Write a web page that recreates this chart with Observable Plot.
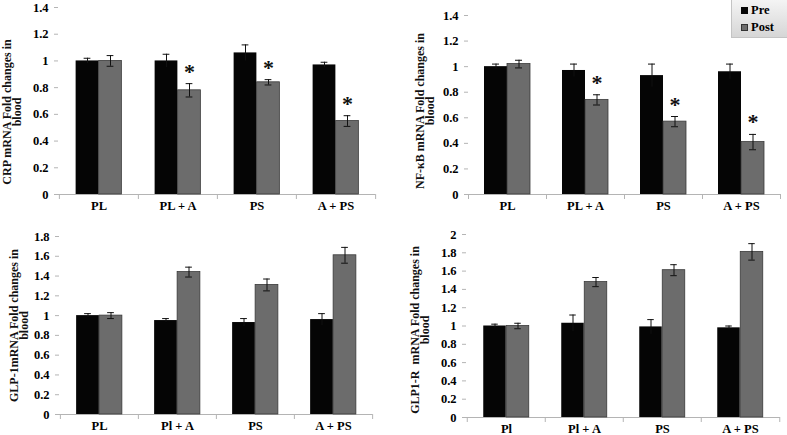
<!DOCTYPE html>
<html><head><meta charset="utf-8">
<script src="https://cdn.jsdelivr.net/npm/d3@7"></script>
<script src="https://cdn.jsdelivr.net/npm/@observablehq/plot@0.6"></script>
<style>
body{margin:0;background:#fff}
#wrap{position:relative;width:787px;height:435px;overflow:hidden;font-family:"Liberation Serif",serif}
.panel{position:absolute}
#legend{position:absolute;left:731px;top:0px;width:56px;height:38px;box-sizing:border-box;border:1px solid #c4c4c4;border-top:none;border-right:none;background:linear-gradient(#f4f4f4,#d6d6d6);font-weight:bold;font-size:12.5px;color:#000}
#legend .row{position:absolute;left:9px;display:flex;align-items:center;gap:3px}
#legend .sw{width:7px;height:7px;box-sizing:border-box}
</style></head><body>
<div id="wrap"></div>
<script>
// ---- data ----
const catsCRP = ["PL", "PL + A", "PS", "A + PS"];
const catsNFkB = ["PL", "PL + A", "PS", "A + PS"];
const catsGLP1 = ["PL", "Pl + A", "PS", "A + PS"];
const catsGLP1R = ["Pl", "Pl + A", "PS", "A + PS"];
const seriesNames = ["Pre", "Post"];

const crpPre = [1.00, 1.00, 1.06, 0.97];
const crpPreErr = [0.02, 0.05, 0.06, 0.02];
const crpPost = [1.00, 0.78, 0.84, 0.55];
const crpPostErr = [0.04, 0.05, 0.02, 0.04];
const crpStars = [false, true, true, true];

const nfkbPre = [1.00, 0.97, 0.93, 0.96];
const nfkbPreErr = [0.02, 0.05, 0.09, 0.06];
const nfkbPost = [1.02, 0.74, 0.57, 0.41];
const nfkbPostErr = [0.03, 0.04, 0.04, 0.06];
const nfkbStars = [false, true, true, true];

const glp1Pre = [1.00, 0.95, 0.93, 0.96];
const glp1PreErr = [0.02, 0.02, 0.04, 0.06];
const glp1Post = [1.00, 1.44, 1.31, 1.61];
const glp1PostErr = [0.03, 0.05, 0.06, 0.08];
const glp1Stars = [false, false, false, false];

const glp1rPre = [1.00, 1.03, 0.99, 0.98];
const glp1rPreErr = [0.02, 0.09, 0.08, 0.02];
const glp1rPost = [1.00, 1.48, 1.61, 1.81];
const glp1rPostErr = [0.03, 0.05, 0.06, 0.09];
const glp1rStars = [false, false, false, false];

const yTicksCRP = [0, 0.2, 0.4, 0.6, 0.8, 1, 1.2, 1.4];
const yTicksNFkB = [0, 0.2, 0.4, 0.6, 0.8, 1, 1.2, 1.4];
const yTicksGLP1 = [0, 0.2, 0.4, 0.6, 0.8, 1, 1.2, 1.4, 1.6, 1.8];
const yTicksGLP1R = [0, 0.2, 0.4, 0.6, 0.8, 1, 1.2, 1.4, 1.6, 1.8, 2];

const labelCRP = "CRP mRNA Fold changes in\nblood";
const labelNFkB = "NF-\u03baB mRNA Fold changes in\nblood";
const labelGLP1 = "GLP-1mRNA Fold changes in\nblood";
const labelGLP1R = "GLP1-R  mRNA Fold changes in\nblood";

const preColor = "#050505";
const postColor = "#6c6c6c";
const axisColor = "#b4b4b4";

function panel(p) {
  const rows = p.cats.map((c, i) => ({
    cat: c, pre: p.pre[i], preErr: p.preErr[i], post: p.post[i], postErr: p.postErr[i], star: p.stars[i]
  }));
  const band = (p.width - p.ml - p.mr) / p.cats.length;
  const frameH = p.height - p.mt - p.mb;
  const bw = 23, cap = 3.5;
  const half = band / 2;
  const fmt = d => String(+d.toFixed(1));
  const chart = Plot.plot({
    width: p.width, height: p.height,
    marginLeft: p.ml, marginRight: p.mr, marginTop: p.mt, marginBottom: p.mb,
    style: {fontFamily: "'Liberation Serif', serif", background: "transparent", overflow: "visible"},
    x: {domain: p.cats, padding: 0},
    y: {domain: [0, p.ticks[p.ticks.length - 1]]},
    marks: [
      Plot.axisY({ticks: p.ticks, tickFormat: fmt, tickSize: 4, tickPadding: 6, stroke: axisColor, fill: "black",
                  fontSize: 12.5, fontWeight: "bold", label: null, line: true}),
      Plot.axisX({tickSize: 0, tickPadding: 7, fill: "black", fontSize: 12.5, fontWeight: "bold", label: null}),
      Plot.ruleY([0], {stroke: axisColor}),
      Plot.ruleX(p.cats, {x: d => d, dx: -half, insetTop: frameH, insetBottom: -5, stroke: axisColor}),
      Plot.ruleX(p.cats.slice(-1), {x: d => d, dx: half, insetTop: frameH, insetBottom: -5, stroke: axisColor}),
      Plot.barY(rows, {x: "cat", y: "pre", fill: preColor, insetLeft: half - bw, insetRight: half}),
      Plot.barY(rows, {x: "cat", y: "post", fill: postColor, stroke: "#3a3a3a", strokeWidth: 0.8, insetLeft: half, insetRight: half - bw}),
      Plot.ruleX(rows, {x: "cat", y1: d => d.pre - d.preErr, y2: d => d.pre + d.preErr, dx: -bw / 2, stroke: "#111"}),
      Plot.ruleX(rows, {x: "cat", y1: d => d.post - d.postErr, y2: d => d.post + d.postErr, dx: bw / 2, stroke: "#111"}),
      Plot.tickY(rows, {x: "cat", y: d => d.pre + d.preErr, insetLeft: half - bw / 2 - cap, insetRight: half + bw / 2 - cap, stroke: "#111"}),
      Plot.tickY(rows, {x: "cat", y: d => d.post + d.postErr, insetLeft: half + bw / 2 - cap, insetRight: half - bw / 2 - cap, stroke: "#111"}),
      Plot.tickY(rows, {x: "cat", y: d => d.post - d.postErr, insetLeft: half + bw / 2 - cap, insetRight: half - bw / 2 - cap, stroke: "#111"}),
      Plot.text(rows.filter(d => d.star), {x: "cat", y: d => d.post + d.postErr, text: () => "*", dx: bw / 2, dy: -5,
                lineAnchor: "bottom", fontSize: 22, fontWeight: "bold", fill: "#111"}),
      Plot.text([p.label], {frameAnchor: "left", text: d => d, rotate: -90, dx: p.ldx, dy: p.ldy,
                textAnchor: "middle", lineAnchor: "middle",
                fontSize: 12, fontWeight: "bold", lineHeight: 0.85, fill: "#111"})
    ]
  });
  chart.classList.add("panel");
  chart.style.left = p.left + "px";
  chart.style.top = p.top + "px";
  document.getElementById("wrap").appendChild(chart);
}

panel({left: 0, top: 0, width: 390, height: 215, ml: 58, mt: 7, mr: 15, mb: 21,
  cats: catsCRP, pre: crpPre, preErr: crpPreErr, post: crpPost, postErr: crpPostErr, stars: crpStars,
  ticks: yTicksCRP, label: labelCRP, ldx: -46, ldy: 11});
panel({left: 390, top: 0, width: 397, height: 215, ml: 78, mt: 15, mr: 7, mb: 21,
  cats: catsNFkB, pre: nfkbPre, preErr: nfkbPreErr, post: nfkbPost, postErr: nfkbPostErr, stars: nfkbStars,
  ticks: yTicksNFkB, label: labelNFkB, ldx: -43, ldy: 6});
panel({left: 0, top: 215, width: 390, height: 220, ml: 59, mt: 21, mr: 18, mb: 21,
  cats: catsGLP1, pre: glp1Pre, preErr: glp1PreErr, post: glp1Post, postErr: glp1PostErr, stars: glp1Stars,
  ticks: yTicksGLP1, label: labelGLP1, ldx: -40, ldy: 0});
panel({left: 390, top: 215, width: 397, height: 220, ml: 76, mt: 19, mr: 7, mb: 18,
  cats: catsGLP1R, pre: glp1rPre, preErr: glp1rPreErr, post: glp1rPost, postErr: glp1rPostErr, stars: glp1rStars,
  ticks: yTicksGLP1R, label: labelGLP1R, ldx: -46, ldy: 4});

// legend
const legend = document.createElement("div");
legend.id = "legend";
seriesNames.forEach((s, i) => {
  const row = document.createElement("div");
  row.className = "row";
  row.style.top = (3 + i * 17) + "px";
  const sw = document.createElement("span");
  sw.className = "sw";
  sw.style.background = i === 0 ? preColor : postColor;
  sw.style.border = i === 0 ? "none" : "1px solid #333";
  const t = document.createElement("span");
  t.textContent = s;
  row.appendChild(sw); row.appendChild(t);
  legend.appendChild(row);
});
document.getElementById("wrap").appendChild(legend);
</script>
</body></html>
